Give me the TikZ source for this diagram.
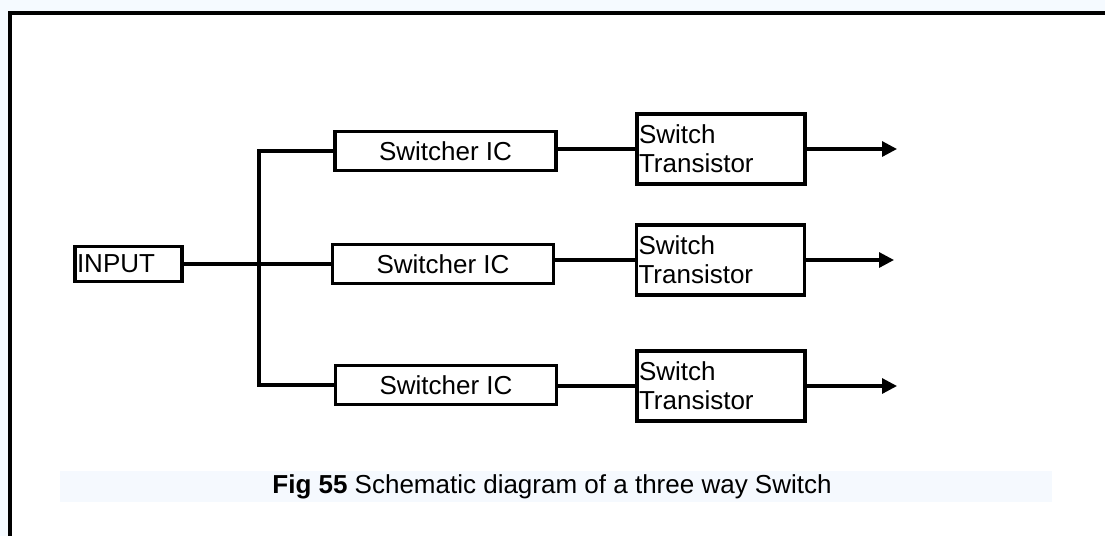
\documentclass[tikz,border=0pt]{standalone}
\usepackage{fontspec}
\setmainfont{Liberation Sans}
\usetikzlibrary{arrows.meta}
\definecolor{pageblue}{HTML}{F5FAFF}
\definecolor{capblue}{HTML}{F5F9FE}
\tikzset{
  blockline/.style={line width=3.3pt},
  inbox/.style={draw, blockline, rectangle, inner xsep=2pt, inner ysep=0pt,
    text width=103pt, align=left, minimum height=35pt},
  icbox/.style={draw, blockline, rectangle, inner sep=0pt,
    minimum width=221pt, minimum height=39pt, align=center},
  trbox/.style={draw, blockline, rectangle, inner xsep=2pt, inner ysep=0pt,
    text width=164pt, align=left, minimum height=70pt},
  wire/.style={line width=3.2pt},
  outarrow/.style={wire, -{Triangle[length=15pt,width=15pt]}}
}
\begin{document}
\begin{tikzpicture}[x=1pt,y=-1pt,font=\fontsize{26}{29}\selectfont]
\useasboundingbox (0,0) rectangle (1105,536);
% page and frame
\fill[pageblue] (0,0) rectangle (1105,536);
\fill[white] (9.5,13) rectangle (1105,536);
\draw[line width=4pt] (1105,13) -- (9.5,13) -- (9.5,536);

% blocks
\node[inbox] (in) at (128.5,264) {INPUT};

\node[icbox] (ic1) at (445.5,151) {Switcher IC};
\node[icbox] (ic2) at (443,264) {Switcher IC};
\node[icbox] (ic3) at (446,385) {Switcher IC};

\node[trbox] (st1) at (721,149) {Switch\\Transistor};
\node[trbox] (st2) at (720.5,260) {Switch\\Transistor};
\node[trbox] (st3) at (721,386) {Switch\\Transistor};

\coordinate (bus) at (259,264);
\coordinate (o1) at (897,149);
\coordinate (o2) at (894,260);
\coordinate (o3) at (897,386);

% connections
\draw[wire] (in) -- (ic2);
\draw[wire] (ic1.west) -- (ic1.west -| bus) -- (ic3.west -| bus) -- (ic3.west);

\draw[wire] (ic1.east |- st1.west) -- (st1.west);
\draw[wire] (ic2.east |- st2.west) -- (st2.west);
\draw[wire] (ic3.east |- st3.west) -- (st3.west);

\draw[outarrow] (st1) -- (o1);
\draw[outarrow] (st2) -- (o2);
\draw[outarrow] (st3) -- (o3);

% caption
\fill[capblue] (60,471) rectangle (1052,502);
\node (cap) at (552,487) {\textbf{Fig 55} Schematic diagram of a three way Switch};
\end{tikzpicture}
\end{document}
